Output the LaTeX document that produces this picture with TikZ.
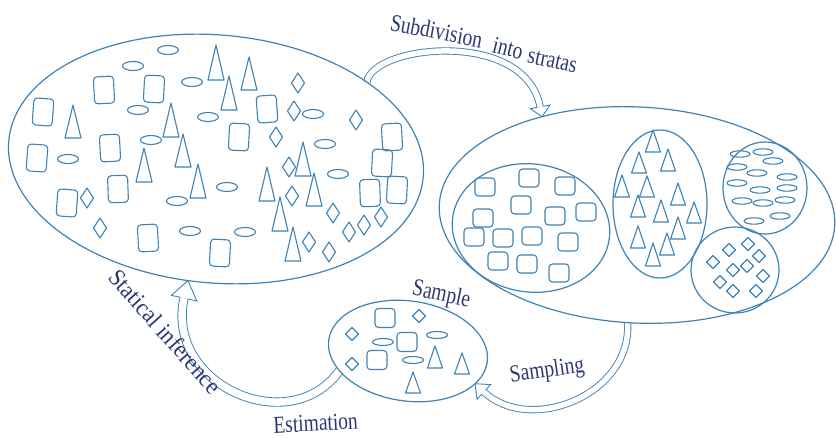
\documentclass[tikz,border=0pt]{standalone}
\usepackage{fontspec}
\setmainfont{Liberation Serif}
\usetikzlibrary{calc,shapes.geometric,backgrounds}
\definecolor{lineblue}{RGB}{62,130,182}
\definecolor{textnavy}{RGB}{45,55,115}
\tikzset{
  shp/.style={draw=lineblue, line width=1.1pt, line join=round},
  rbox/.style={shp, rounded corners=3.5pt},
  group/.style={ellipse, draw=lineblue, line width=1.2pt, inner sep=0pt, outer sep=0pt},
  lbl/.style={text=textnavy, font=\fontsize{19.5}{22}\selectfont, inner sep=0pt, anchor=base, yscale=1.25},
  band/.style={draw=lineblue, line width=0.9pt, double=white},
  headline/.style={draw=lineblue, line width=0.9pt, line join=miter},
}
% hollow curved block arrow:
% start, control 1, control 2, tip, gap, edge offset, head half width, head length
\newcommand\hollowarrow[8]{%
  \coordinate (hb) at ($(#4)!#8pt!(#3)$);
  \draw[band, double distance=#5pt] (#1) .. controls (#2) and (#3) .. (hb);
  \draw[headline] ($(hb)!#6pt!90:(#4)$) -- ($(hb)!#7pt!90:(#4)$) -- (#4)
     -- ($(hb)!#7pt!-90:(#4)$) -- ($(hb)!#6pt!-90:(#4)$);
}
\begin{document}
\begin{tikzpicture}[x=1pt, y=-1pt]
\useasboundingbox (0,0) rectangle (836,438);

% population, strata and sample
\node[group, minimum width=416pt, minimum height=248pt, rotate=-5] (pop) at (216,159) {};
\node[group, minimum width=396pt, minimum height=216pt, rotate=-3] (strata) at (637,215) {};
\node[group, minimum width=158pt, minimum height=128pt, rotate=-8] (s1) at (531,228) {};
\node[group, minimum width=94pt, minimum height=148pt] (s2) at (660,204) {};
\node[group, minimum width=84pt, minimum height=92pt] (s3) at (765,188) {};
\node[group, minimum width=88pt, minimum height=86pt] (s4) at (735,270) {};
\node[group, minimum width=160pt, minimum height=100pt, rotate=-8] (sample) at (408,351) {};

% connectors
\begin{scope}[on background layer]
  \hollowarrow{pop.32}{372,45}{525,28}{strata.137}{5.5}{3.2}{10}{10}
  \hollowarrow{strata.268}{632,395}{530,435}{sample.-18}{5.5}{3.2}{10}{12}
  \hollowarrow{sample.204}{290,440}{165,385}{pop.262}{7.5}{4.2}{13}{18}
\end{scope}

% population contents
\foreach \x/\y/\a in {43/112/-4, 104/90/3, 154/89/-3, 267/109/4, 239/137/-3,
  110/148/3, 37/158/-4, 118/189/2, 67/203/-4, 148/238/3, 220/253/-3,
  392/137/3, 382/163/-3, 370/193/2, 397/190/-3}
  \draw[rbox, rotate around={\a:(\x,\y)}] (\x-10,\y-13.5) rectangle (\x+10,\y+13.5);
\foreach \x/\y in {168/50, 133/66, 192/82, 138/110, 208/117, 151/140, 68/159,
  313/114, 325/144, 338/174, 227/187, 177/201, 190/231, 245/232}
  \draw[shp] (\x,\y) ellipse [x radius=10.5pt, y radius=4.5pt];
\foreach \x/\t/\b in {216/45/80, 249/57/90, 229/76/110, 73/105/138, 171/103/137,
  183/134/167, 144/148/182, 198/164/198, 303/142/176, 267/167/201, 314/173/206,
  280/197/231, 293/227/261}
  \draw[shp] (\x,\t) -- (\x-8,\b) -- (\x+8,\b) -- cycle;
\foreach \x/\y in {298/83, 294/111, 356/120, 276/137, 289/167, 292/196, 87/198,
  100/228, 333/213, 309/242, 329/252, 349/232, 364/225, 381/217}
  \draw[shp] (\x,\y-10) -- (\x+6.5,\y) -- (\x,\y+10) -- (\x-6.5,\y) -- cycle;

% stratum of squares
\foreach \x/\y in {485/187, 529/178, 565/186, 521/205, 483/218, 555/216, 586/212,
  474/237, 503/238, 532/236, 568/242, 498/261, 527/264, 559/273}
  \draw[rbox] (\x-10,\y-9) rectangle (\x+10,\y+9);
% stratum of triangles
\foreach \x/\t/\b in {653/130/152, 668/149/171, 639/152/173, 622/175/197, 647/176/197,
  678/183/205, 638/195/217, 661/200/222, 694/202/223, 678/217/239, 638/226/248,
  667/233/255, 653/243/266}
  \draw[shp] (\x,\t) -- (\x-7.5,\b) -- (\x+7.5,\b) -- cycle;
% stratum of ellipses
\foreach \x/\y in {740/154, 763/152, 773/161, 737/167, 757/173, 787/177, 737/183,
  760/190, 787/188, 742/201, 763/203, 785/200, 780/216, 754/221}
  \draw[shp] (\x,\y) ellipse [x radius=10pt, y radius=3.2pt];
% stratum of diamonds
\foreach \x/\y in {748/244, 729/250, 759/256, 713/262, 733/270, 747/266, 763/276,
  720/282, 733/291, 756/291}
  \draw[shp] (\x,\y-6.5) -- (\x+6.5,\y) -- (\x,\y+6.5) -- (\x-6.5,\y) -- cycle;

% sample contents
\foreach \x/\y in {385/318, 407/342, 377/360}
  \draw[rbox] (\x-10,\y-9.5) rectangle (\x+10,\y+9.5);
\foreach \x/\y in {419/316, 352/334, 352/364}
  \draw[shp] (\x,\y-6.5) -- (\x+6.5,\y) -- (\x,\y+6.5) -- (\x-6.5,\y) -- cycle;
\foreach \x/\y in {383/342, 437/335, 413/360}
  \draw[shp] (\x,\y) ellipse [x radius=10.5pt, y radius=3.5pt];
\foreach \x/\t/\b in {435/346/368, 462/353/374, 413/372/393}
  \draw[shp] (\x,\t) -- (\x-7.5,\b) -- (\x+7.5,\b) -- cycle;

% labels
\node[rotate=-11, lbl] (t1) at (435,39) {Subdivision};
\node[rotate=-14, lbl] (t2) at (506,56) {into};
\node[rotate=-12, lbl] (t3) at (551,68) {stratas};
\node[rotate=-12, lbl] (t4) at (440,301) {Sample};
\node[rotate=8, lbl] (t5) at (548,377) {Sampling};
\node[rotate=3, lbl] (t6) at (316,431) {Estimation};
\node[rotate=-48.5, lbl, xscale=1.15] (t7) at (159,337) {Statical inference};
\end{tikzpicture}
\end{document}
